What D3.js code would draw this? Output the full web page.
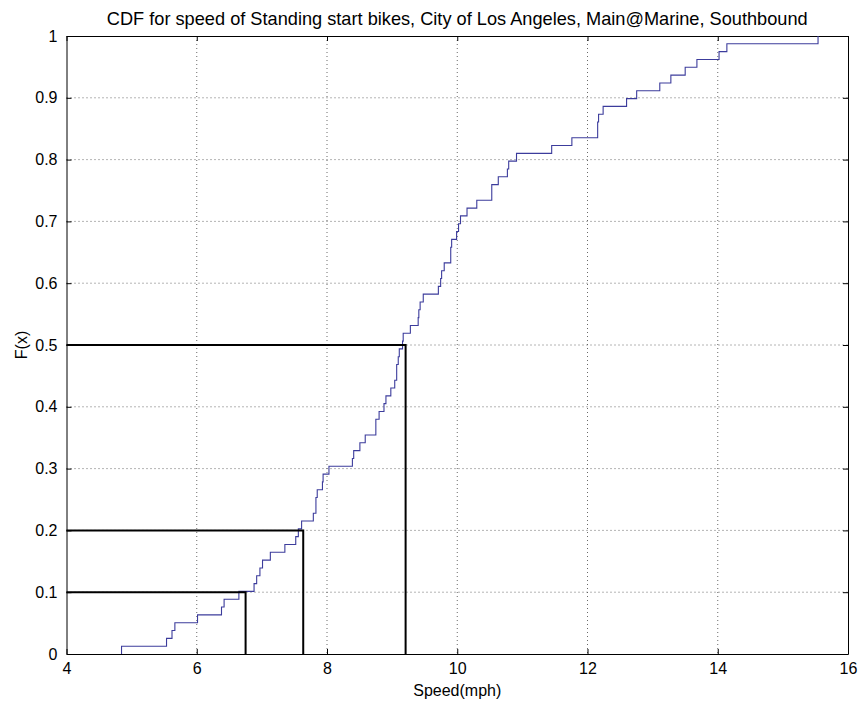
<!DOCTYPE html>
<html>
<head>
<meta charset="utf-8">
<script src="https://cdn.jsdelivr.net/npm/d3@7"></script>
<style>
  html, body { margin: 0; padding: 0; background: #fff; }
  svg { display: block; }
  text { font-family: "Liberation Sans", Arial, sans-serif; fill: #000; }
</style>
</head>
<body>
<svg id="chart" width="859" height="703"></svg>
<script>
// Sorted speed samples (mph) read from the empirical CDF steps (n = 79)
const speeds = [
  4.845, 5.536, 5.62, 5.664, 6.012, 6.38, 6.42, 6.647, 6.88, 6.92,
  6.97, 7.01, 7.13, 7.353, 7.52, 7.56, 7.61, 7.79, 7.83, 7.83,
  7.85, 7.93, 7.94, 8.03, 8.39, 8.41, 8.505, 8.587, 8.75, 8.75,
  8.80, 8.875, 8.905, 8.98, 9.04, 9.07, 9.07, 9.094, 9.11, 9.16,
  9.17, 9.28, 9.40, 9.41, 9.43, 9.478, 9.71, 9.745, 9.76, 9.80,
  9.90, 9.90, 9.914, 9.99, 10.02, 10.05, 10.15, 10.30, 10.53, 10.53,
  10.63, 10.77, 10.79, 10.91, 11.45, 11.76, 12.156, 12.156, 12.17, 12.24,
  12.60, 12.755, 13.11, 13.28, 13.50, 13.68, 14.02, 14.14, 15.54
];
// Highlighted quantiles: probability and speed
const quantileP = [0.1, 0.2, 0.5];
const quantileX = [6.75, 7.635, 9.207];

const xTicks = [4, 6, 8, 10, 12, 14, 16];
const yTicks = [0, 0.1, 0.2, 0.3, 0.4, 0.5, 0.6, 0.7, 0.8, 0.9, 1];

const titleText = "CDF for speed of Standing start bikes, City of Los Angeles, Main@Marine, Southbound";
const xLabelText = "Speed(mph)";
const yLabelText = "F(x)";

const svg = d3.select("#chart");
const L = 66.5, R = 848, T = 36, B = 654;

const x = d3.scaleLinear().domain([4, 16]).range([L, R]);
const y = d3.scaleLinear().domain([0, 1]).range([B, T]);

// Empirical CDF step points
const n = speeds.length;
const steps = [[speeds[0], 0]];
speeds.forEach((s, i) => {
  const prev = i === 0 ? 0 : i / n;
  steps.push([s, prev]);
  steps.push([s, (i + 1) / n]);
});

// Grid
const grid = svg.append("g");
xTicks.slice(1, -1).forEach(v => {
  grid.append("line")
    .attr("x1", x(v)).attr("x2", x(v)).attr("y1", T).attr("y2", B)
    .attr("stroke", "#444").attr("stroke-width", 0.8)
    .attr("stroke-dasharray", "1,3");
});
yTicks.slice(1, -1).forEach(v => {
  grid.append("line")
    .attr("x1", L).attr("x2", R).attr("y1", y(v)).attr("y2", y(v))
    .attr("stroke", "#444").attr("stroke-width", 0.8)
    .attr("stroke-dasharray", "1,3");
});

// Axes (MATLAB-style inward ticks on all sides)
const tickLen = 5;
const xAxisB = d3.axisBottom(x).tickValues(xTicks).tickSizeInner(-tickLen).tickSizeOuter(0).tickPadding(9).tickFormat(d3.format("d"));
const xAxisT = d3.axisTop(x).tickValues(xTicks).tickSizeInner(-tickLen).tickSizeOuter(0).tickFormat("");
const yAxisL = d3.axisLeft(y).tickValues(yTicks).tickSizeInner(-tickLen).tickSizeOuter(0).tickPadding(9).tickFormat(d => d === 0 || d === 1 ? d3.format("d")(d) : d3.format(".1f")(d));
const yAxisR = d3.axisRight(y).tickValues(yTicks).tickSizeInner(-tickLen).tickSizeOuter(0).tickFormat("");

function style(g) {
  g.selectAll("path").attr("stroke", "#000").attr("stroke-width", 1);
  g.selectAll("line").attr("stroke", "#000").attr("stroke-width", 1);
  g.selectAll("text").attr("font-size", 16).attr("font-family", "Liberation Sans, Arial, sans-serif").attr("fill", "#000");
}
svg.append("g").attr("transform", `translate(0,${B})`).call(xAxisB).call(style);
svg.append("g").attr("transform", `translate(0,${T})`).call(xAxisT).call(style);
svg.append("g").attr("transform", `translate(${L},0)`).call(yAxisL).call(style);
svg.append("g").attr("transform", `translate(${R},0)`).call(yAxisR).call(style);

// CDF line
svg.append("path")
  .datum(steps)
  .attr("fill", "none")
  .attr("stroke", "#3c3c9c")
  .attr("stroke-width", 1.1)
  .attr("d", d3.line().x(d => x(d[0])).y(d => y(d[1])));

// Quantile guide lines
quantileP.forEach((p, i) => {
  svg.append("path")
    .attr("fill", "none")
    .attr("stroke", "#000")
    .attr("stroke-width", 2)
    .attr("d", d3.line()([[x(4), y(p)], [x(quantileX[i]), y(p)], [x(quantileX[i]), y(0)]]));
});

// Title and labels
svg.append("text")
  .attr("x", (L + R) / 2).attr("y", 25)
  .attr("text-anchor", "middle")
  .attr("font-size", 18.2)
  .text(titleText);

svg.append("text")
  .attr("x", (L + R) / 2).attr("y", 696)
  .attr("text-anchor", "middle")
  .attr("font-size", 16)
  .text(xLabelText);

svg.append("text")
  .attr("transform", `translate(27,${(T + B) / 2}) rotate(-90)`)
  .attr("text-anchor", "middle")
  .attr("font-size", 16)
  .text(yLabelText);
</script>
</body>
</html>
